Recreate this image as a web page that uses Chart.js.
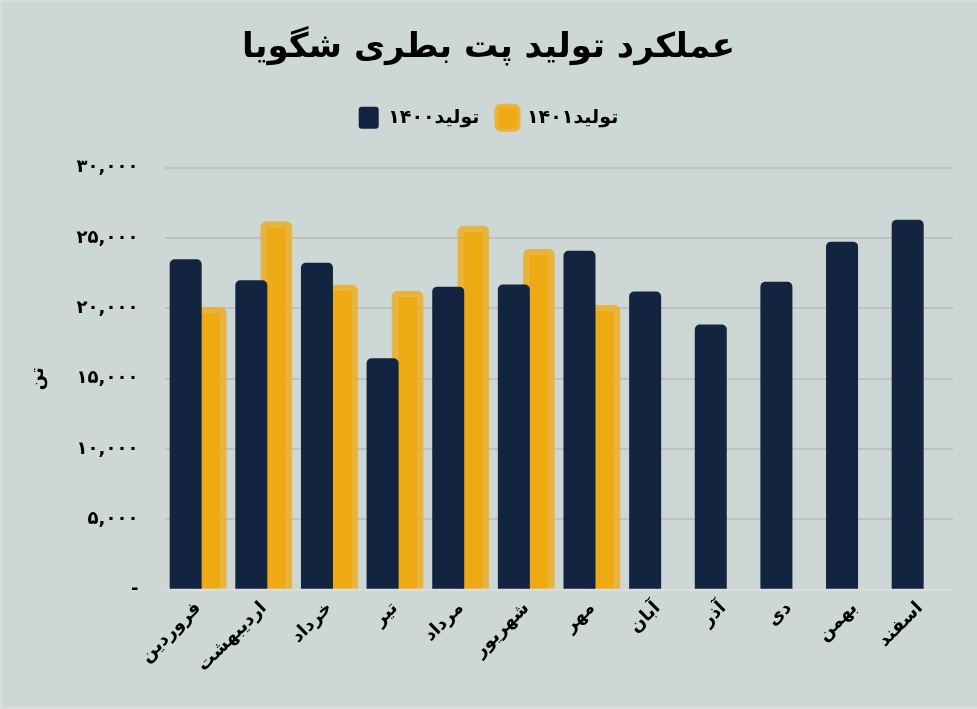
<!DOCTYPE html>
<html><head><meta charset="utf-8">
<script src="https://cdn.jsdelivr.net/npm/chart.js@4.4.1/dist/chart.umd.min.js"></script>
<style>
html,body{margin:0;padding:0;background:#d9dddc;}
#wrap{position:absolute;left:2px;top:2px;width:975px;height:705px;background:#cdd8d6;}
</style></head>
<body><div id="wrap"><canvas id="c" width="975" height="705"></canvas></div>
<script>
const months = ['فروردین','اردیبهشت','خرداد','تیر','مرداد','شهریور','مهر','آبان','آذر','دی','بهمن','اسفند'];
const prod1400 = [23500, 22000, 23250, 16450, 21550, 21700, 24100, 21200, 18850, 21900, 24750, 26300];
const prod1401 = [20100, 26200, 21700, 21250, 25900, 24250, 20250, null, null, null, null, null];
const yTickLabels = ['-', '۵,۰۰۰', '۱۰,۰۰۰', '۱۵,۰۰۰', '۲۰,۰۰۰', '۲۵,۰۰۰', '۳۰,۰۰۰'];
const seriesNames = ['تولید۱۴۰۰', 'تولید۱۴۰۱'];
const titleText = 'عملکرد تولید پت بطری شگویا';
const yTitle = 'تن';

const FONT = "'DejaVu Sans', sans-serif";
const legendSpace = {
  id: 'legendSpace',
  beforeInit(chart) {
    const orig = chart.legend.fit;
    chart.legend.fit = function () { orig.call(this); this.height += 29; };
  }
};
new Chart(document.getElementById('c'), {
  type: 'bar',
  data: {
    labels: months,
    datasets: [
      { label: seriesNames[0], data: prod1400, backgroundColor: '#12243f', borderWidth: 0,
        borderRadius: {topLeft: 5, topRight: 5}, borderSkipped: 'bottom' },
      { label: seriesNames[1], data: prod1401, backgroundColor: '#eeaa12',
        borderColor: 'rgba(238,172,30,0.82)', borderWidth: 6,
        borderRadius: {topLeft: 6, topRight: 6}, borderSkipped: 'bottom' }
    ]
  },
  plugins: [legendSpace],
  options: {
    responsive: false,
    animation: false,
    categoryPercentage: 0.762,
    barPercentage: 1.28,
    layout: { padding: { top: 12, left: 22, right: 24, bottom: 23 } },
    plugins: {
      title: { display: true, text: titleText, color: '#000',
        font: { family: FONT, size: 34, weight: 'bold' }, padding: { top: 14, bottom: 20 } },
      legend: { position: 'top',
        labels: { color: '#000', font: { family: FONT, size: 19, weight: 'bold' },
          boxWidth: 20, boxHeight: 22, useBorderRadius: true, borderRadius: 3, padding: 18 } },
      tooltip: { enabled: false }
    },
    scales: {
      x: {
        grid: { display: false, drawTicks: false },
        border: { display: false },
        ticks: { color: '#000', font: { family: FONT, size: 18, weight: 'bold' },
          maxRotation: 45, minRotation: 45, padding: 8 }
      },
      y: {
        min: 0, max: 30000,
        grid: { color: (ctx) => ctx.tick && ctx.tick.value === 0 ? '#dcdcdc' : '#c2bfbf', lineWidth: 2, drawTicks: false },
        border: { display: false },
        ticks: { stepSize: 5000, padding: 27, color: '#000',
          font: { family: FONT, size: 18, weight: 'bold' },
          callback: (v) => yTickLabels[Math.round(v / 5000)] },
        title: { display: true, text: yTitle, color: '#000',
          font: { family: FONT, size: 18, weight: 'bold' }, padding: { top: 4, bottom: 0 } }
      }
    }
  }
});
</script></body></html>
